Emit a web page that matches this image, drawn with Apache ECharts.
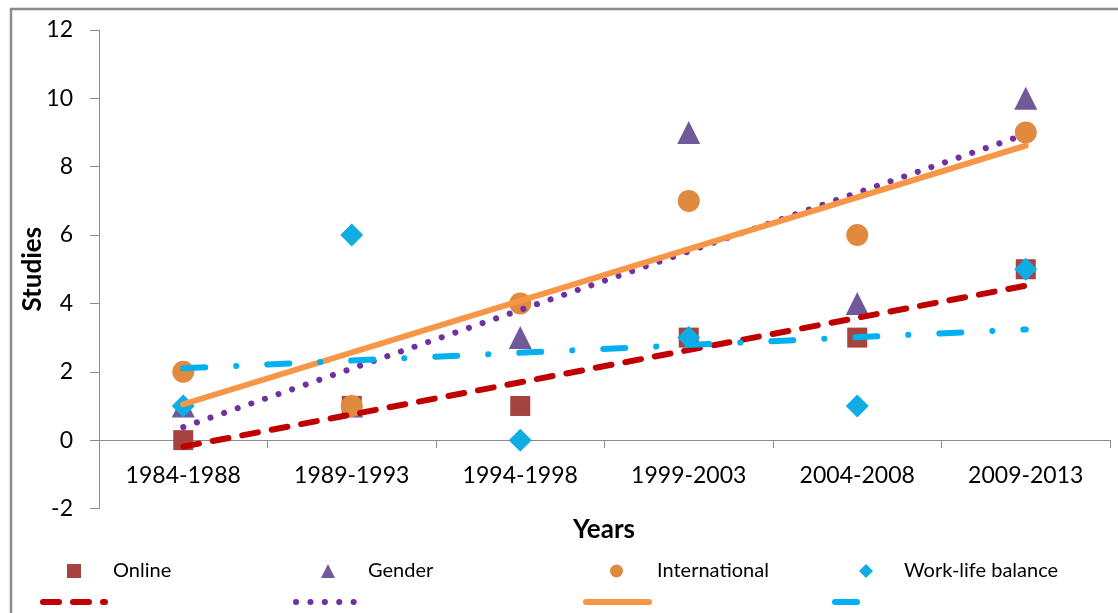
<!DOCTYPE html>
<html>
<head>
<meta charset="utf-8">
<script src="https://cdn.jsdelivr.net/npm/echarts@6/dist/echarts.min.js"></script>
<style>
html,body{margin:0;padding:0;background:#fff;overflow:hidden;}
#chart{width:1118px;height:613px;}
</style>
</head>
<body>
<div id="chart"></div>
<script>
const categories = ['1984-1988','1989-1993','1994-1998','1999-2003','2004-2008','2009-2013'];
const online = [0, 1, 1, 3, 3, 5];
const gender = [1, 1, 3, 9, 4, 10];
const international = [2, 1, 4, 7, 6, 9];
const workLife = [1, 6, 0, 3, 1, 5];
// trendline end values (first and last category)
const onlineTrend = [-0.19, 4.52];
const genderTrend = [0.38, 8.95];
const internationalTrend = [1.05, 8.62];
const workLifeTrend = [2.1, 3.24];
const yTicks = {min: -2, max: 12, interval: 2};

const FONT = 'Lato';
const colors = {
  online: '#A5433F', gender: '#71589A', international: '#DF8A3E', workLife: '#12ACE4',
  onlineT: '#C00000', genderT: '#7030A0', internationalT: '#F79646', workLifeT: '#00B0F0'
};
const dashes = {
  online: [16, 14],
  gender: [0.1, 14.3],
  international: null,
  workLife: [22, 31, 0.1, 31]
};

const GRID = {left: 99, right: 8, top: 30, bottom: 104.5};
const plotH = 613 - GRID.top - GRID.bottom;
// distance between the bottom of the plot (y = min) and the zero line
const zeroOffset = plotH * (0 - yTicks.min) / (yTicks.max - yTicks.min);

function trend(name, vals, color, dash, z) {
  return {
    name: name, type: 'line', z: z, silent: true,
    data: [[categories[0], vals[0]], [categories[categories.length - 1], vals[1]]],
    symbol: 'none',
    lineStyle: {color: color, width: 6, type: dash || 'solid', cap: 'round'},
    legendHoverLink: false
  };
}

function scatter(name, vals, symbol, size, color, z) {
  return {
    name: name, type: 'scatter', z: z,
    data: vals, symbol: symbol, symbolSize: size,
    itemStyle: {color: color, opacity: 1}
  };
}

const legendBase = {
  orient: 'horizontal', padding: 0, itemWidth: 14, itemHeight: 14, top: 561,
  textStyle: {fontFamily: FONT, fontSize: 20, color: '#000'},
  selectedMode: false
};

const chart = echarts.init(document.getElementById('chart'), null, {renderer: 'canvas'});
chart.setOption({
  backgroundColor: '#fff',
  animation: false,
  grid: Object.assign({containLabel: false, outerBoundsMode: 'none'}, GRID),
  xAxis: {
    type: 'category', data: categories, boundaryGap: true,
    offset: -zeroOffset,
    axisLine: {onZero: false, lineStyle: {color: '#8c8c8c', width: 1}},
    axisTick: {show: true, length: 8, inside: false, lineStyle: {color: '#8c8c8c'}},
    axisLabel: {fontFamily: FONT, fontSize: 23, color: '#000', margin: 24},
    splitLine: {show: false}
  },
  yAxis: {
    type: 'value', min: yTicks.min, max: yTicks.max, interval: yTicks.interval,
    name: 'Studies', nameLocation: 'middle', nameGap: 53, nameRotate: 90, nameMoveOverlap: false,
    nameTextStyle: {fontFamily: FONT, fontSize: 26, fontWeight: 'bold', color: '#000'},
    axisLine: {show: true, lineStyle: {color: '#8c8c8c', width: 1}},
    axisTick: {show: true, length: 9, lineStyle: {color: '#8c8c8c'}},
    axisLabel: {fontFamily: FONT, fontSize: 23, color: '#000', margin: 26},
    splitLine: {show: false}
  },
  legend: [
    Object.assign({}, legendBase, {left: 67, data: [{name: 'Online', icon: 'rect'}], textStyle: Object.assign({}, legendBase.textStyle, {padding: [0, 0, 0, 27]})}),
    Object.assign({}, legendBase, {left: 321, data: [{name: 'Gender', icon: 'triangle'}], textStyle: Object.assign({}, legendBase.textStyle, {padding: [0, 0, 0, 28]})}),
    Object.assign({}, legendBase, {left: 610, data: [{name: 'International', icon: 'circle'}], itemWidth: 13, itemHeight: 13, textStyle: Object.assign({}, legendBase.textStyle, {padding: [0, 0, 0, 29]})}),
    Object.assign({}, legendBase, {left: 859, data: [{name: 'Work-life balance', icon: 'diamond'}], textStyle: Object.assign({}, legendBase.textStyle, {padding: [0, 0, 0, 26]})})
  ],
  series: [
    scatter('Online', online, 'rect', 20, colors.online, 2),
    scatter('Gender', gender, 'triangle', 23, colors.gender, 3),
    scatter('International', international, 'circle', 22, colors.international, 4),
    scatter('Work-life balance', workLife, 'diamond', 23, colors.workLife, 5),
    trend('Online trend', onlineTrend, colors.onlineT, dashes.online, 6),
    trend('Gender trend', genderTrend, colors.genderT, dashes.gender, 7),
    trend('International trend', internationalTrend, colors.internationalT, dashes.international, 8),
    trend('Work-life trend', workLifeTrend, colors.workLifeT, dashes.workLife, 9)
  ],
  graphic: [
    {type: 'rect', silent: true, z: 100, shape: {x: 11, y: 9, width: 1140, height: 650},
      style: {fill: 'none', stroke: '#8c8c8c', lineWidth: 2.5}},
    {type: 'text', silent: true, x: 604, y: 530,
      style: {text: 'Years', fontFamily: FONT, fontSize: 26, fontWeight: 'bold', fill: '#000', align: 'center', verticalAlign: 'middle'}},
    {type: 'line', silent: true, shape: {x1: 43, y1: 602, x2: 105, y2: 602},
      style: {stroke: colors.onlineT, lineWidth: 6, lineCap: 'round', lineDash: dashes.online}},
    {type: 'line', silent: true, shape: {x1: 296, y1: 602, x2: 358, y2: 602},
      style: {stroke: colors.genderT, lineWidth: 6, lineCap: 'round', lineDash: dashes.gender}},
    {type: 'line', silent: true, shape: {x1: 586, y1: 602, x2: 649, y2: 602},
      style: {stroke: colors.internationalT, lineWidth: 6, lineCap: 'round'}},
    {type: 'line', silent: true, shape: {x1: 835, y1: 602, x2: 886, y2: 602},
      style: {stroke: colors.workLifeT, lineWidth: 6, lineCap: 'round', lineDash: dashes.workLife}}
  ]
});
</script>
</body>
</html>
